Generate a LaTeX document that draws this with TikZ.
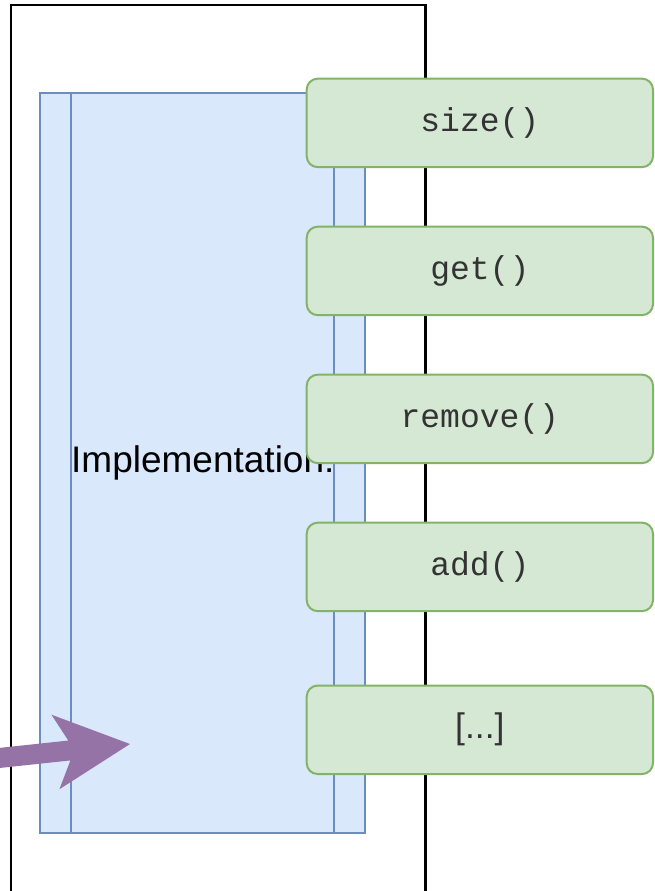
\documentclass[tikz,border=0pt]{standalone}
\usepackage{fontspec}
\setmainfont{Liberation Sans}
\newfontfamily\monof{Liberation Mono}
\definecolor{bluefill}{HTML}{DAE8FC}
\definecolor{bluedraw}{HTML}{6C8EBF}
\definecolor{greenfill}{HTML}{D5E8D4}
\definecolor{greendraw}{HTML}{82B366}
\definecolor{purplefill}{HTML}{9673A6}
\definecolor{txtgray}{HTML}{333333}
\begin{document}
\begin{tikzpicture}[x=1pt,y=-1pt,
  frame/.style={draw=black, line width=2.5pt},
  implbox/.style={draw=bluedraw, fill=bluefill, line width=2pt, minimum width=325pt, minimum height=740.3pt, inner sep=0pt, font=\fontsize{37}{44}\selectfont, text=black},
  implline/.style={draw=bluedraw, line width=2pt},
  method/.style={draw=greendraw, fill=greenfill, line width=2pt, rounded corners=11pt, minimum width=346.3pt, minimum height=88.5pt, inner sep=0pt, text=txtgray, font=\monof\fontsize{33}{40}\selectfont},
  moretext/.style={font=\fontsize{35.5}{42}\selectfont},
  bigarrow/.style={fill=purplefill}
]
\useasboundingbox (0,0) rectangle (654,891);
\clip (0,0) rectangle (654,891);
% outer frame
\draw[frame] (11,5) rectangle (425.3,920);
% implementation box
\node[implbox] (impl) at (202.8,463.15) {\raisebox{2pt}{Implementation:}};
\draw[implline] ([xshift=31.7pt]impl.north west) -- ([xshift=31.7pt]impl.south west);
\draw[implline] ([xshift=-32pt]impl.north east) -- ([xshift=-32pt]impl.south east);
% methods
\node[method] (size) at (479.85,122.9) {size()};
\node[method] (get) at (479.85,270.9) {get()};
\node[method] (remove) at (479.85,418.9) {remove()};
\node[method] (add) at (479.85,566.9) {add()};
\node[method, moretext] (more) at (479.85,729.8) {[...]};
% purple arrow
\coordinate (tip) at (130,744);
\begin{scope}[shift={(tip)}, rotate=6.1]
\fill[bigarrow] (0,0) -- (-75,-37.5) -- (-61,-10) -- (-170,-10) -- (-170,10) -- (-61,10) -- (-75,37.5) -- cycle;
\end{scope}
\end{tikzpicture}
\end{document}
